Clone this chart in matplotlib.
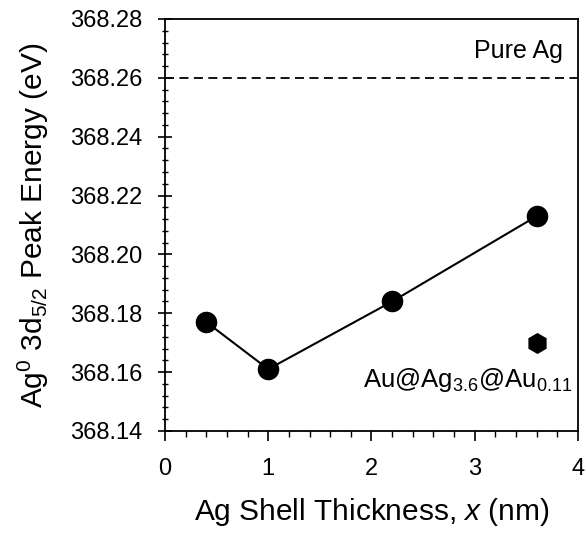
import matplotlib
matplotlib.use("Agg")
import matplotlib.pyplot as plt
from matplotlib.ticker import MultipleLocator, FormatStrFormatter

plt.rcParams['font.family'] = ['Liberation Sans', 'DejaVu Sans']
plt.rcParams['mathtext.fontset'] = 'custom'
plt.rcParams['mathtext.rm'] = 'Liberation Sans'
plt.rcParams['mathtext.it'] = 'Liberation Sans:italic'

thickness = [0.4, 1.0, 2.2, 3.6]
energy = [368.177, 368.161, 368.184, 368.213]
core_x = [3.6]
core_y = [368.170]
pure_ag = 368.26

fig = plt.figure(figsize=(5.86, 5.33), dpi=100)
ax = fig.add_axes([0.2816, 0.1914, 0.7047, 0.773])

ax.plot(thickness, energy, color='black', lw=1.5, marker='o', ms=14.5, zorder=3)
ax.plot(core_x, core_y, linestyle='none', color='black', marker='h', ms=14, zorder=3)
ax.axhline(pure_ag, color='black', lw=1.3, ls=(0, (5, 3)))

ax.set_xlim(0, 4)
ax.set_ylim(368.14, 368.28)
ax.xaxis.set_major_locator(MultipleLocator(1))
ax.xaxis.set_minor_locator(MultipleLocator(0.2))
ax.yaxis.set_major_locator(MultipleLocator(0.02))
ax.yaxis.set_minor_locator(MultipleLocator(0.004))
ax.yaxis.set_major_formatter(FormatStrFormatter('%.2f'))

ax.tick_params(axis='y', which='major', direction='inout', length=10, width=1.2, labelsize=17, pad=11)
ax.tick_params(axis='y', which='minor', direction='inout', length=5, width=1.0)
ax.tick_params(axis='x', which='major', direction='out', length=7, width=1.2, labelsize=17, pad=12.5)
ax.tick_params(axis='x', which='minor', direction='out', length=4, width=1.0)
for s in ax.spines.values():
    s.set_linewidth(1.3)

ax.set_xlabel('Ag Shell Thickness, $\\it{x}$ (nm)', fontsize=21.5)
ax.set_ylabel('Ag$^{0}$ 3d$_{5/2}$ Peak Energy (eV)', fontsize=21.5)
ax.xaxis.set_label_coords(0.5, -0.158)
ax.yaxis.set_label_coords(-0.276, 0.5)

ax.text(3.855, 368.2667, 'Pure Ag', ha='right', va='baseline', fontsize=18)
ax.text(3.94, 368.155, 'Au@Ag$_{3.6}$@Au$_{0.11}$', ha='right', va='baseline', fontsize=18.5)

fig.savefig('out.png', dpi=100)
